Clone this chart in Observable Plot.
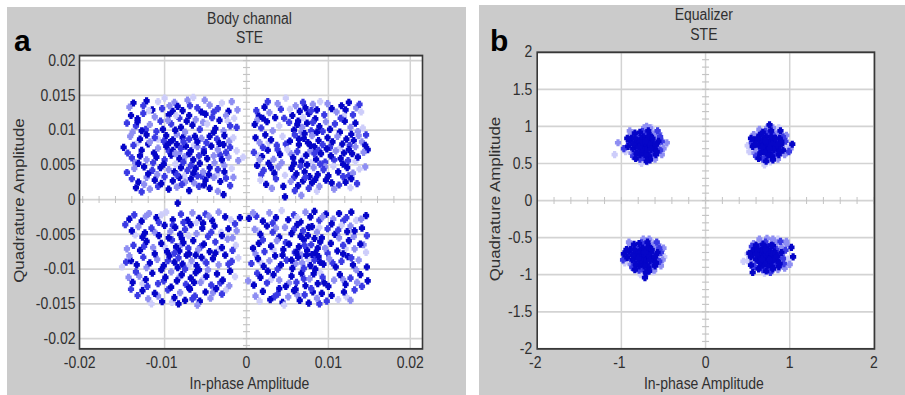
<!DOCTYPE html>
<html><head><meta charset="utf-8">
<script src="https://cdn.jsdelivr.net/npm/d3@7"></script>
<script src="https://cdn.jsdelivr.net/npm/@observablehq/plot@0.6"></script>
<style>
html,body{margin:0;padding:0;background:#fff;}
#wrap{position:relative;width:905px;height:395px;overflow:hidden;font-family:"Liberation Sans","DejaVu Sans",Arial,sans-serif;}
.panel{position:absolute;background:#cbcbcb;overflow:hidden;}
.panel svg{position:absolute;left:0;top:0;transform-origin:0 0;}
.tag{position:absolute;font-family:"Liberation Sans","DejaVu Sans",Arial,sans-serif !important;font-weight:700;font-size:30px;line-height:30px;color:#000;}
</style></head><body>
<div id="wrap">
  <div class="panel" id="pa" style="left:7px;top:7px;width:459px;height:388px"></div>
  <div class="panel" id="pb" style="left:479px;top:5px;width:426px;height:390px"></div>
  <div class="tag" style="left:14px;top:26px">a</div>
  <div class="tag" style="left:490px;top:26px">b</div>
</div>
<script>
// ---------- tick labels ----------
const aXTicks = [-0.02, -0.01, 0, 0.01, 0.02];
const aYTicks = [0.02, 0.015, 0.01, 0.005, 0, -0.005, -0.01, -0.015, -0.02];
const bXTicks = [-2, -1, 0, 1, 2];
const bYTicks = [2, 1.5, 1, 0.5, 0, -0.5, -1, -1.5, -2];
const aTitles = ["Body channal", "STE"];
const bTitles = ["Equalizer", "STE"];
const xLabel = "In-phase Amplitude";
const yLabel = "Quadrature Amplitude";
const shadeColors = ["#0505c8", "#3a3ae4", "#8e8ef2", "#cdcdfa"];

// ---------- panel a: body channel points [I, Q, shade] ----------
const aQ2 = [
[-.0143,.0133,2],[-.0138,.0139,0],[-.0122,.0142,0],[-.0115,.0129,0],[-.0108,.0141,3],[-.0100,.0146,3],[-.0088,.0140,2],[-.0084,.0134,0],[-.0078,.0128,0],[-.0072,.0143,2],[-.0065,.0147,3],[-.0060,.0132,1],[-.0055,.0126,0],[-.0045,.0136,2],[-.0035,.0131,1],[-.0030,.0139,3],[-.0022,.0127,0],[-.0018,.0141,2],
[-.0146,.0110,1],[-.0139,.0097,2],[-.0126,.0135,1],[-.0119,.0128,3],[-.0103,.0131,1],[-.0094,.0135,2],[-.0069,.0135,1],[-.0051,.0143,2],[-.0040,.0126,1],[-.0011,.0129,2],
[-.0141,.0121,0],[-.0133,.0116,0],[-.0126,.0124,1],[-.0112,.0119,2],[-.0105,.0113,1],[-.0095,.0122,0],[-.0090,.0127,0],[-.0082,.0117,1],[-.0070,.0121,0],[-.0062,.0115,2],[-.0050,.0123,0],[-.0042,.0118,1],[-.0033,.0114,0],[-.0025,.0121,2],[-.0015,.0117,3],
[-.0012,.0104,1],[-.0023,.0113,3],[-.0053,.0111,2],[-.0086,.0121,3],[-.0123,.0101,1],[-.0108,.0087,3],[-.0101,.0084,1],[-.0049,.0082,1],[-.0021,.0084,2],[-.0133,.0082,3],
[-.0135,.0106,1],[-.0128,.0099,0],[-.0118,.0108,2],[-.0102,.0101,0],[-.0092,.0109,1],[-.0080,.0104,0],[-.0075,.0097,2],[-.0066,.0107,0],[-.0057,.0101,1],[-.0048,.0109,3],[-.0038,.0102,0],[-.0028,.0099,2],[-.0020,.0106,1],
[-.0064,.0078,3],[-.0095,.0070,1],[-.0082,.0067,2],[-.0032,.0064,1],[-.0010,.0056,2],[-.0136,.0053,2],[-.0114,.0053,1],[-.0087,.0051,3],[-.0068,.0049,1],[-.0027,.0049,2],
[-.0142,.0091,2],[-.0130,.0087,0],[-.0122,.0093,0],[-.0112,.0089,1],[-.0098,.0092,0],[-.0090,.0086,0],[-.0085,.0094,2],[-.0078,.0089,0],[-.0070,.0087,1],[-.0063,.0091,0],[-.0055,.0088,2],[-.0045,.0091,0],[-.0036,.0087,1],[-.0027,.0092,0],[-.0016,.0089,3],
[-.0146,.0039,1],[-.0109,.0036,2],[-.0076,.0034,3],[-.0055,.0034,1],[-.0036,.0036,3],[-.0016,.0032,2],[-.0128,.0011,1],[-.0102,.0027,3],[-.0064,.0024,2],[-.0020,.0020,1],
[-.0150,.0075,0],[-.0138,.0078,1],[-.0128,.0071,0],[-.0120,.0080,0],[-.0108,.0074,2],[-.0098,.0077,0],[-.0090,.0071,0],[-.0085,.0079,0],[-.0080,.0074,1],[-.0074,.0077,0],[-.0068,.0070,0],[-.0060,.0076,2],[-.0052,.0072,1],[-.0043,.0077,0],[-.0035,.0072,2],[-.0028,.0079,0],[-.0020,.0075,1],[-.0012,.0070,3],
[-.0140,.0060,1],[-.0130,.0063,0],[-.0122,.0057,2],[-.0110,.0061,0],[-.0100,.0057,1],[-.0092,.0064,0],[-.0082,.0059,0],[-.0075,.0062,2],[-.0065,.0057,0],[-.0058,.0063,1],[-.0048,.0059,0],[-.0040,.0063,2],[-.0030,.0057,0],[-.0022,.0061,2],[-.0004,.0061,3],
[-.0137,.0045,2],[-.0125,.0047,0],[-.0115,.0042,1],[-.0105,.0046,0],[-.0095,.0043,2],[-.0088,.0040,0],[-.0080,.0046,0],[-.0072,.0042,1],[-.0062,.0045,0],[-.0053,.0040,2],[-.0045,.0046,0],[-.0035,.0043,1],[-.0027,.0040,0],[-.0018,.0045,3],
[-.0140,.0030,1],[-.0132,.0025,0],[-.0122,.0032,2],[-.0112,.0028,0],[-.0100,.0033,1],[-.0090,.0027,0],[-.0082,.0032,0],[-.0075,.0025,2],[-.0068,.0030,0],[-.0060,.0034,1],[-.0050,.0028,0],[-.0040,.0032,2],[-.0032,.0026,0],[-.0025,.0031,1],
[-.0135,.0017,0],[-.0118,.0015,2],[-.0108,.0019,1],[-.0095,.0015,0],[-.0085,.0018,2],[-.0070,.0013,0],[-.0058,.0019,1],[-.0045,.0016,0],[-.0035,.0012,2],[-.0028,.0007,0],
[-.0133,.0112,0],[-.0096,.0114,2],[-.0073,.0113,0],[-.0040,.0097,0],[-.0110,.0098,1],[-.0087,.0100,0],[-.0060,.0083,0],[-.0118,.0083,2],[-.0094,.0082,0],[-.0077,.0083,1],[-.0033,.0081,0],[-.0145,.0067,1],[-.0113,.0067,0],[-.0087,.0066,2],[-.0070,.0066,0],[-.0052,.0068,0],[-.0025,.0068,1],[-.0132,.0052,0],[-.0101,.0051,0],[-.0077,.0054,1],[-.0057,.0052,0],[-.0039,.0053,2],[-.0120,.0037,0],[-.0085,.0036,1],[-.0065,.0038,0],[-.0046,.0036,0],[-.0104,.0023,0],[-.0079,.0022,1],[-.0052,.0021,0],[-.0125,.0022,2]
];
const aQ1 = [
[.0012,.0128,1],[.0015,.0120,0],[.0022,.0133,0],[.0028,.0125,2],[.0035,.0118,0],[.0042,.0130,1],[.0048,.0146,3],[.0056,.0121,0],[.0060,.0135,2],[.0065,.0127,0],[.0069,.0140,1],[.0072,.0132,0],[.0076,.0124,0],[.0081,.0137,2],[.0086,.0129,0],[.0090,.0141,3],[.0095,.0122,1],[.0104,.0131,0],[.0110,.0126,2],[.0116,.0135,0],[.0121,.0129,0],[.0125,.0140,0],[.0130,.0122,1],[.0134,.0132,2],[.0140,.0126,3],
[.0026,.0141,1],[.0038,.0138,2],[.0053,.0130,3],[.0079,.0128,1],[.0099,.0138,2],[.0119,.0120,3],[.0138,.0137,1],[.0013,.0114,2],[.0046,.0117,1],[.0069,.0118,3],
[.0010,.0108,0],[.0018,.0103,1],[.0025,.0112,0],[.0032,.0099,2],[.0040,.0106,3],[.0052,.0111,1],[.0058,.0100,0],[.0063,.0113,0],[.0068,.0104,2],[.0074,.0110,0],[.0079,.0099,1],[.0084,.0116,0],[.0089,.0105,0],[.0097,.0112,2],[.0102,.0101,0],[.0108,.0109,1],[.0114,.0097,0],[.0120,.0113,0],[.0127,.0104,2],[.0133,.0110,0],[.0142,.0103,3],
[.0093,.0098,1],[.0136,.0098,2],[.0146,.0093,1],[.0027,.0082,3],[.0048,.0080,1],[.0067,.0097,2],[.0102,.0075,1],[.0114,.0074,3],[.0141,.0083,2],[.0014,.0063,3],
[.0011,.0089,0],[.0016,.0082,2],[.0023,.0093,0],[.0030,.0086,0],[.0037,.0078,1],[.0044,.0091,3],[.0053,.0084,0],[.0059,.0093,1],[.0064,.0079,0],[.0070,.0088,0],[.0075,.0082,0],[.0080,.0092,2],[.0083,.0076,0],[.0088,.0085,0],[.0093,.0079,1],[.0099,.0089,0],[.0105,.0083,0],[.0111,.0091,2],[.0117,.0080,0],[.0122,.0087,0],[.0126,.0078,1],[.0131,.0085,0],[.0137,.0092,2],[.0145,.0078,0],[.0148,.0072,0],
[.0038,.0072,1],[.0054,.0066,2],[.0070,.0061,3],[.0088,.0071,1],[.0107,.0057,1],[.0133,.0055,3],[.0018,.0036,1],[.0043,.0053,2],[.0058,.0032,1],[.0079,.0053,3],
[.0009,.0068,1],[.0019,.0062,0],[.0026,.0071,0],[.0033,.0058,2],[.0041,.0065,0],[.0050,.0072,3],[.0057,.0060,0],[.0062,.0069,1],[.0067,.0055,0],[.0073,.0064,0],[.0078,.0070,2],[.0085,.0058,0],[.0091,.0066,0],[.0096,.0054,1],[.0103,.0063,0],[.0109,.0070,2],[.0115,.0059,0],[.0119,.0067,0],[.0124,.0056,1],[.0129,.0066,0],[.0136,.0061,0],[.0143,.0068,2],
[.0096,.0047,2],[.0125,.0034,1],[.0145,.0047,2],[.0031,.0016,2],[.0059,.0013,1],[.0086,.0012,3],[.0107,.0015,2],[.0135,.0023,1],
[.0013,.0049,0],[.0021,.0042,1],[.0027,.0052,0],[.0034,.0038,0],[.0039,.0047,2],[.0047,.0035,3],[.0055,.0045,0],[.0061,.0037,0],[.0066,.0048,1],[.0071,.0040,0],[.0077,.0033,0],[.0082,.0046,2],[.0087,.0036,0],[.0094,.0043,1],[.0100,.0034,0],[.0106,.0048,3],[.0112,.0040,0],[.0118,.0033,1],[.0123,.0046,0],[.0130,.0038,2],[.0138,.0044,3],
[.0017,.0028,3],[.0024,.0022,0],[.0036,.0030,1],[.0045,.0019,0],[.0054,.0026,2],[.0063,.0020,0],[.0069,.0027,0],[.0076,.0016,1],[.0080,.0024,0],[.0089,.0019,2],[.0097,.0028,0],[.0113,.0021,1],[.0121,.0025,0],[.0127,.0017,3],[.0047,.0004,0],[.0067,.0006,2],
[.0020,.0117,0],[.0062,.0108,0],[.0081,.0111,1],[.0071,.0095,0],[.0086,.0097,0],[.0115,.0117,1],[.0128,.0094,0],[.0020,.0075,1],[.0064,.0087,0],[.0078,.0078,0],[.0083,.0066,1],[.0098,.0073,0],[.0125,.0072,0],[.0133,.0076,2],[.0058,.0052,0],[.0074,.0050,0],[.0090,.0051,1],[.0118,.0051,0],[.0030,.0046,0],[.0072,.0032,1],[.0084,.0029,0],[.0104,.0024,0],[.0128,.0030,0],[.0016,.0057,2]
];
const aQ3 = [
[-.0143,-.0028,0],[-.0137,-.0022,1],[-.0128,-.0031,0],[-.0119,-.0020,2],[-.0110,-.0026,0],[-.0098,-.0018,3],[-.0090,-.0029,0],[-.0084,-.0005,0],[-.0080,-.0021,1],[-.0072,-.0030,0],[-.0066,-.0019,2],[-.0058,-.0027,0],[-.0050,-.0021,1],[-.0042,-.0030,0],[-.0034,-.0018,2],[-.0026,-.0025,0],[-.0019,-.0029,3],[-.0008,-.0026,0],
[-.0148,-.0036,1],[-.0123,-.0024,2],[-.0104,-.0022,3],[-.0077,-.0033,1],[-.0046,-.0024,2],[-.0014,-.0035,1],[-.0136,-.0051,3],[-.0112,-.0047,2],[-.0090,-.0037,1],[-.0071,-.0052,3],
[-.0140,-.0045,0],[-.0132,-.0039,2],[-.0124,-.0048,0],[-.0116,-.0041,1],[-.0107,-.0052,0],[-.0100,-.0037,0],[-.0093,-.0046,2],[-.0087,-.0040,0],[-.0081,-.0050,0],[-.0075,-.0043,1],[-.0068,-.0036,0],[-.0061,-.0049,2],[-.0054,-.0041,0],[-.0047,-.0053,1],[-.0039,-.0038,0],[-.0031,-.0047,3],[-.0022,-.0042,0],[-.0012,-.0045,2],
[-.0043,-.0047,1],[-.0017,-.0055,2],[-.0146,-.0071,2],[-.0125,-.0067,1],[-.0100,-.0068,3],[-.0080,-.0065,2],[-.0056,-.0068,1],[-.0034,-.0072,3],[-.0147,-.0090,1],[-.0122,-.0098,2],
[-.0138,-.0066,1],[-.0130,-.0073,0],[-.0122,-.0060,0],[-.0114,-.0069,2],[-.0104,-.0063,0],[-.0097,-.0075,0],[-.0091,-.0058,1],[-.0086,-.0068,0],[-.0082,-.0074,0],[-.0077,-.0062,0],[-.0071,-.0070,1],[-.0065,-.0059,0],[-.0059,-.0072,2],[-.0052,-.0064,0],[-.0045,-.0075,0],[-.0038,-.0061,1],[-.0030,-.0069,0],[-.0023,-.0057,2],[-.0013,-.0066,3],
[-.0096,-.0088,1],[-.0070,-.0095,3],[-.0052,-.0087,2],[-.0022,-.0093,1],[-.0144,-.0112,2],[-.0127,-.0121,3],[-.0101,-.0117,1],[-.0082,-.0112,2],[-.0053,-.0114,3],[-.0032,-.0120,1],
[-.0152,-.0097,3],[-.0141,-.0088,0],[-.0134,-.0094,0],[-.0126,-.0083,1],[-.0118,-.0091,0],[-.0109,-.0086,2],[-.0101,-.0095,0],[-.0094,-.0081,0],[-.0088,-.0090,0],[-.0083,-.0084,1],[-.0078,-.0093,0],[-.0073,-.0080,0],[-.0067,-.0088,2],[-.0061,-.0095,0],[-.0055,-.0083,0],[-.0049,-.0091,1],[-.0041,-.0085,0],[-.0034,-.0094,2],[-.0026,-.0080,0],[-.0018,-.0089,1],[-.0010,-.0084,3],
[-.0141,-.0129,1],[-.0108,-.0139,2],[-.0091,-.0148,3],[-.0066,-.0143,1],[-.0041,-.0134,2],[-.0025,-.0130,3],[-.0017,-.0073,1],[-.0061,-.0033,3],
[-.0139,-.0119,0],[-.0131,-.0110,2],[-.0123,-.0115,0],[-.0115,-.0106,0],[-.0108,-.0121,1],[-.0099,-.0112,0],[-.0092,-.0104,2],[-.0085,-.0117,0],[-.0079,-.0108,0],[-.0074,-.0122,1],[-.0068,-.0113,0],[-.0062,-.0105,0],[-.0056,-.0119,2],[-.0049,-.0110,0],[-.0043,-.0123,1],[-.0036,-.0107,0],[-.0029,-.0116,0],[-.0021,-.0124,2],[-.0014,-.0111,3],
[-.0133,-.0138,1],[-.0127,-.0131,0],[-.0120,-.0143,2],[-.0112,-.0135,0],[-.0103,-.0147,0],[-.0096,-.0130,1],[-.0088,-.0141,0],[-.0081,-.0134,2],[-.0075,-.0145,0],[-.0069,-.0129,0],[-.0063,-.0139,1],[-.0057,-.0146,0],[-.0050,-.0133,0],[-.0044,-.0142,2],[-.0037,-.0128,0],[-.0030,-.0136,1],[-.0116,-.0150,3],[-.0060,-.0152,2],
[-.0095,-.0055,0],[-.0079,-.0056,0],[-.0088,-.0077,1],[-.0070,-.0078,0],[-.0062,-.0080,0],[-.0084,-.0098,0],[-.0075,-.0100,1],[-.0058,-.0101,0],[-.0127,-.0054,0],[-.0112,-.0078,0],[-.0135,-.0104,1],[-.0092,-.0126,0],[-.0070,-.0127,0],[-.0104,-.0101,0],[-.0047,-.0101,2],[-.0038,-.0077,0],[-.0121,-.0125,1],[-.0083,-.0150,0],[-.0143,-.0081,2],[-.0030,-.0052,0],[-.0053,-.0034,0],[-.0107,-.0033,1],[-.0020,-.0103,0],[-.0064,-.0119,0]
];
const aQ4 = [
[.0003,-.0027,0],[.0012,-.0024,1],[.0020,-.0031,0],[.0028,-.0019,2],[.0036,-.0026,0],[.0043,-.0016,3],[.0051,-.0029,0],[.0058,-.0022,1],[.0066,-.0032,0],[.0072,-.0018,2],[.0078,-.0025,0],[.0083,-.0017,0],[.0089,-.0030,1],[.0097,-.0021,0],[.0106,-.0028,2],[.0113,-.0020,0],[.0122,-.0026,1],[.0128,-.0018,0],[.0134,-.0030,3],[.0146,-.0023,0],
[.0008,-.0019,2],[.0032,-.0034,1],[.0062,-.0026,3],[.0093,-.0025,2],[.0118,-.0031,1],[.0140,-.0028,2],[.0014,-.0045,3],[.0036,-.0041,2],[.0058,-.0043,1],[.0089,-.0040,3],
[.0010,-.0043,2],[.0017,-.0050,0],[.0025,-.0038,0],[.0032,-.0047,1],[.0040,-.0054,0],[.0047,-.0040,2],[.0055,-.0049,0],[.0062,-.0036,0],[.0069,-.0045,1],[.0075,-.0052,0],[.0080,-.0039,0],[.0086,-.0047,2],[.0092,-.0055,0],[.0099,-.0042,1],[.0108,-.0050,0],[.0116,-.0037,3],[.0123,-.0046,0],[.0131,-.0053,2],[.0141,-.0041,0],
[.0112,-.0044,1],[.0127,-.0038,2],[.0147,-.0052,1],[.0011,-.0078,2],[.0033,-.0072,3],[.0048,-.0062,1],[.0067,-.0080,2],[.0099,-.0077,1],[.0121,-.0071,3],[.0143,-.0065,2],
[.0008,-.0070,0],[.0015,-.0063,0],[.0022,-.0075,1],[.0030,-.0067,0],[.0037,-.0059,2],[.0045,-.0072,0],[.0052,-.0064,0],[.0059,-.0076,1],[.0064,-.0068,0],[.0070,-.0058,0],[.0074,-.0073,0],[.0079,-.0065,1],[.0084,-.0077,0],[.0090,-.0061,0],[.0096,-.0070,2],[.0103,-.0063,0],[.0111,-.0074,0],[.0118,-.0066,1],[.0125,-.0059,0],[.0132,-.0071,2],[.0139,-.0064,0],[.0146,-.0076,3],
[.0017,-.0090,3],[.0038,-.0100,1],[.0060,-.0092,2],[.0076,-.0087,3],[.0105,-.0091,1],[.0134,-.0101,2],[.0013,-.0106,1],[.0030,-.0115,3],[.0052,-.0120,2],[.0070,-.0114,1],
[.0006,-.0092,1],[.0014,-.0085,0],[.0021,-.0096,0],[.0028,-.0088,2],[.0035,-.0081,0],[.0042,-.0094,0],[.0049,-.0087,1],[.0056,-.0099,0],[.0063,-.0083,0],[.0068,-.0091,2],[.0073,-.0080,0],[.0078,-.0095,0],[.0083,-.0087,1],[.0088,-.0082,0],[.0094,-.0093,0],[.0101,-.0085,2],[.0109,-.0097,0],[.0116,-.0089,1],[.0124,-.0082,0],[.0130,-.0094,0],[.0137,-.0087,2],[.0147,-.0097,0],
[.0090,-.0105,3],[.0118,-.0115,2],[.0141,-.0125,1],[.0016,-.0146,3],[.0034,-.0140,1],[.0062,-.0137,2],[.0089,-.0150,1],[.0122,-.0140,3],[.0132,-.0130,1],
[.0002,-.0117,2],[.0009,-.0123,0],[.0017,-.0112,0],[.0025,-.0120,1],[.0033,-.0108,0],[.0040,-.0116,2],[.0048,-.0125,0],[.0055,-.0110,0],[.0061,-.0119,1],[.0067,-.0106,0],[.0072,-.0124,0],[.0077,-.0114,2],[.0082,-.0107,0],[.0087,-.0121,0],[.0093,-.0112,1],[.0100,-.0125,0],[.0107,-.0116,2],[.0114,-.0108,0],[.0121,-.0122,0],[.0127,-.0113,1],[.0135,-.0119,2],[.0148,-.0117,0],
[.0011,-.0139,2],[.0020,-.0132,0],[.0029,-.0144,0],[.0038,-.0136,1],[.0044,-.0148,0],[.0051,-.0140,2],[.0058,-.0131,0],[.0065,-.0145,0],[.0071,-.0137,1],[.0076,-.0149,0],[.0081,-.0133,0],[.0086,-.0142,2],[.0092,-.0135,0],[.0098,-.0146,1],[.0104,-.0138,0],[.0112,-.0144,3],[.0119,-.0133,0],[.0127,-.0145,2],[.0046,-.0152,3],
[.0066,-.0053,0],[.0083,-.0056,0],[.0071,-.0066,1],[.0087,-.0070,0],[.0061,-.0076,0],[.0080,-.0079,0],[.0090,-.0090,0],[.0070,-.0099,1],[.0084,-.0100,0],[.0118,-.0078,0],[.0128,-.0084,1],[.0044,-.0080,0],[.0026,-.0103,0],[.0060,-.0129,0],[.0079,-.0128,1],[.0095,-.0120,0],[.0040,-.0128,0],[.0113,-.0055,2],[.0132,-.0045,0],[.0020,-.0058,1],[.0104,-.0035,0],[.0076,-.0040,0],[.0139,-.0108,0],[.0055,-.0087,0]
];

// ---------- panel b: equalizer output points [I, Q, shade] ----------
const bQ1 = [
[.74,.75,0],[.70,.78,0],[.78,.72,0],[.66,.70,1],[.82,.80,0],[.72,.86,0],[.76,.64,0],[.62,.78,1],[.86,.72,0],[.69,.62,2],[.80,.88,1],[.64,.88,0],[.88,.84,0],[.73,.70,0],[.77,.81,0],[.67,.76,0],[.83,.66,1],[.60,.70,2],[.90,.76,0],[.71,.93,1],[.79,.60,0],[.58,.82,0],[.75,.56,2],[.92,.68,0],[.65,.64,0],[.84,.90,2],[.69,.83,0],[.81,.74,0],[.62,.91,3],[.95,.80,1],[.73,.98,2],[.56,.73,0],[.87,.62,0],[.77,.52,3],[.68,.56,1],[.97,.72,3],[1.03,.76,0],[.52,.66,3],[.54,.84,0],[.60,.60,1],[.89,.94,0],[.80,.98,2],[.70,.48,3],[.76,1.02,0],[.99,.66,1],[.72,.76,0],[.75,.68,0],[.79,.77,0],[.71,.71,1],[.66,.80,0],[.84,.78,1],[.78,.86,0],[.64,.74,0],[.85,.70,0],[.74,.62,0],[.70,.66,0],[.82,.62,1],[.62,.84,0],[.92,.86,1],[.57,.89,2],[.68,.92,0],[.86,.56,2],[.63,.57,0],[.94,.62,2],[.78,.94,0],[.74,.90,1],[.90,.80,0],[.60,.76,0],[.66,.67,1],[.81,.69,0],[.77,.75,1],[.69,.74,0],[.73,.80,0],[.83,.84,0],[.65,.84,1],[.88,.66,0],[.72,.58,1],[.80,.55,0],[.58,.64,2],[.55,.78,1],[1.01,.70,2],[.96,.88,2],[.87,.98,3],[.64,.96,2],[.50,.74,3],[.72,.53,0],[.76,.70,0],[.71,.80,0],[.85,.75,0],[.67,.72,0]
];
const bQ2 = [
[-.72,.75,0],[-.76,.78,0],[-.68,.72,0],[-.80,.70,1],[-.64,.80,0],[-.74,.86,0],[-.70,.64,0],[-.84,.78,0],[-.60,.72,1],[-.78,.62,0],[-.66,.88,0],[-.88,.84,0],[-.58,.84,2],[-.73,.70,0],[-.69,.81,0],[-.79,.76,0],[-.63,.66,1],[-.86,.70,0],[-.56,.76,2],[-.75,.93,1],[-.67,.60,0],[-.90,.82,0],[-.71,.56,2],[-.54,.68,1],[-.82,.64,0],[-.62,.90,2],[-.77,.83,0],[-.65,.74,0],[-.84,.91,0],[-.52,.80,1],[-.73,.98,2],[-.92,.73,0],[-.59,.62,0],[-.69,.52,3],[-.78,.56,1],[-.48,.74,3],[-.46,.78,2],[-.95,.66,3],[-.93,.84,0],[-.86,.60,1],[-.57,.94,1],[-.66,.98,2],[-.76,.50,3],[-.70,1.00,2],[-.97,.70,1],[-1.08,.62,3],[-1.04,.78,2],[-.74,.76,0],[-.71,.68,0],[-.67,.77,0],[-.75,.71,1],[-.80,.80,0],[-.62,.78,1],[-.68,.86,0],[-.82,.74,0],[-.61,.70,0],[-.72,.62,0],[-.76,.66,0],[-.64,.62,1],[-.84,.84,0],[-.54,.86,1],[-.89,.89,2],[-.78,.92,0],[-.60,.56,2],[-.83,.57,0],[-.52,.62,2],[-.68,.94,0],[-.72,.90,1],[-.56,.80,0],[-.86,.76,0],[-.80,.67,1],[-.65,.69,0],[-.69,.75,1],[-.77,.74,0],[-.73,.80,0],[-.63,.84,0],[-.81,.84,1],[-.58,.66,0],[-.74,.58,1],[-.66,.55,0],[-.88,.64,2],[-.91,.78,1],[-.50,.70,2],[-.55,.90,2],[-.64,.98,3],[-.90,.94,2],[-.70,.53,0],[-.76,.70,0],[-.71,.80,0],[-.59,.75,0],[-.79,.72,0]
];
const bQ3 = [
[-.73,-.75,0],[-.77,-.72,0],[-.69,-.78,0],[-.81,-.80,1],[-.65,-.70,0],[-.75,-.64,0],[-.71,-.86,0],[-.85,-.72,0],[-.61,-.78,1],[-.79,-.88,0],[-.67,-.62,0],[-.89,-.66,0],[-.59,-.66,2],[-.74,-.80,0],[-.70,-.69,0],[-.80,-.74,0],[-.64,-.84,1],[-.87,-.80,0],[-.57,-.74,2],[-.76,-.57,1],[-.68,-.90,0],[-.91,-.68,0],[-.72,-.94,2],[-.55,-.82,1],[-.83,-.86,0],[-.63,-.60,2],[-.78,-.67,0],[-.66,-.76,0],[-.85,-.59,0],[-.53,-.70,1],[-.74,-.52,2],[-.93,-.77,0],[-.60,-.88,0],[-.70,-.98,1],[-.79,-.94,1],[-.49,-.76,3],[-.50,-.64,2],[-.96,-.84,3],[-.94,-.66,0],[-.87,-.90,1],[-.58,-.56,1],[-.67,-.52,2],[-.77,-1.00,3],[-.72,-1.04,0],[-.98,-.80,1],[-.97,-.72,0],[-.62,-.96,3],[-.75,-.74,0],[-.72,-.82,0],[-.68,-.73,0],[-.76,-.79,1],[-.81,-.70,0],[-.63,-.72,1],[-.69,-.64,0],[-.83,-.76,0],[-.62,-.80,0],[-.73,-.88,0],[-.77,-.84,0],[-.65,-.88,1],[-.85,-.66,0],[-.55,-.64,1],[-.90,-.61,2],[-.79,-.58,0],[-.61,-.94,2],[-.84,-.93,0],[-.53,-.88,2],[-.69,-.56,0],[-.73,-.60,1],[-.57,-.70,0],[-.87,-.74,0],[-.81,-.83,1],[-.66,-.81,0],[-.70,-.75,1],[-.78,-.76,0],[-.74,-.70,0],[-.64,-.66,0],[-.82,-.66,1],[-.59,-.84,0],[-.75,-.92,1],[-.67,-.95,0],[-.89,-.86,2],[-.92,-.72,1],[-.51,-.80,2],[-.56,-.60,2],[-.65,-.54,3],[-.91,-.56,2],[-.71,-.97,0],[-.77,-.80,0],[-.72,-.70,0],[-.60,-.76,0],[-.80,-.78,0]
];
const bQ4 = [
[.74,-.74,0],[.70,-.71,0],[.78,-.77,0],[.66,-.79,1],[.82,-.69,0],[.72,-.63,0],[.76,-.85,0],[.62,-.71,0],[.86,-.77,1],[.68,-.87,0],[.80,-.61,0],[.58,-.65,0],[.90,-.63,2],[.73,-.79,0],[.77,-.68,0],[.67,-.73,0],[.83,-.83,1],[.60,-.79,0],[.91,-.73,2],[.71,-.56,1],[.79,-.89,0],[.56,-.69,0],[.75,-.93,2],[.93,-.85,1],[.64,-.83,0],[.84,-.57,2],[.69,-.66,0],[.81,-.75,0],[.60,-.60,0],[.95,-.67,1],[.73,-.51,2],[.54,-.76,0],[.87,-.89,0],[.77,-.97,1],[.68,-.93,1],[.98,-.79,3],[.96,-.58,2],[.50,-.81,3],[.52,-.71,0],[.58,-.89,1],[.89,-.55,1],[.80,-.52,2],[.70,-.98,3],[.54,-.87,0],[.56,-.97,0],[1.04,-.76,0],[1.02,-.63,0],[.45,-.82,3],[.72,-.74,0],[.75,-.69,0],[.79,-.72,0],[.71,-.78,1],[.66,-.67,0],[.84,-.66,1],[.78,-.60,0],[.64,-.75,0],[.85,-.81,0],[.74,-.87,0],[.70,-.82,0],[.82,-.86,1],[.62,-.66,0],[.92,-.78,1],[.57,-.58,2],[.68,-.59,0],[.86,-.93,2],[.63,-.92,0],[.94,-.91,2],[.78,-.82,0],[.74,-.62,1],[.90,-.70,0],[.60,-.73,0],[.66,-.86,1],[.81,-.79,0],[.77,-.74,1],[.69,-.76,0],[.73,-.69,0],[.83,-.72,0],[.65,-.62,1],[.88,-.85,0],[.72,-.90,1],[.80,-.92,0],[.58,-.84,2],[.55,-.62,1],[1.00,-.86,2],[.96,-.55,2],[.86,-.52,3],[.64,-.52,2],[.50,-.72,3],[.72,-.95,0],[.76,-.80,0],[.71,-.66,0],[.85,-.75,0],[.67,-.79,0]
];

// ---------- rendering ----------
const S = 1.16; // the reference is vertically stretched
const fmt = d => String(d);
const vtick = {draw(ctx) { ctx.moveTo(0, -3); ctx.lineTo(0, 3); }};
const htick = {draw(ctx) { ctx.moveTo(-3.5, 0); ctx.lineTo(3.5, 0); }};
// thick "+" marker, like the reference's blurred crosses
const blob = {draw(ctx) {
  const L = 3.1, w = 1.6;
  ctx.moveTo(-w, -L); ctx.lineTo(w, -L); ctx.lineTo(w, -w); ctx.lineTo(L, -w);
  ctx.lineTo(L, w); ctx.lineTo(w, w); ctx.lineTo(w, L); ctx.lineTo(-w, L);
  ctx.lineTo(-w, w); ctx.lineTo(-L, w); ctx.lineTo(-L, -w); ctx.lineTo(-w, -w); ctx.closePath();
}};

function build(el, cfg) {
  const W = cfg.w, H = cfg.h;
  const fT = cfg.frame.top - cfg.top, fB = cfg.frame.bottom - cfg.top;
  let pts = cfg.points.flat();
  if (cfg.darkOnTop) pts = pts.slice().sort((a, b) => b[2] - a[2]);
  const gridStyle = {stroke: "#d3d3d3", strokeOpacity: 1, strokeWidth: 1.5};
  const negX = cfg.xTicks.filter(d => d < 0), posX = cfg.xTicks.filter(d => d >= 0);
  const xPad = (cfg.xLabelTop - cfg.frame.bottom) / S;
  const svg = Plot.plot({
    width: W, height: H / S,
    marginTop: fT / S, marginBottom: (H - fB) / S,
    marginLeft: cfg.frame.left - cfg.left, marginRight: cfg.left + W - cfg.frame.right,
    style: {background: "transparent", fontFamily: "'Liberation Sans', Arial, sans-serif", fontSize: "14px", color: "#303030", overflow: "visible"},
    x: {domain: cfg.xDomain, label: null},
    y: {domain: cfg.yDomain, label: null},
    color: {type: "identity"},
    marks: [
      Plot.frame({fill: "white", stroke: null}),
      Plot.gridX(cfg.xGrid, gridStyle),
      Plot.gridY(cfg.yGrid, gridStyle),
      Plot.ruleX([0], gridStyle),
      Plot.ruleY([0], gridStyle),
      Plot.dot(cfg.hMinor, {x: d => d, y: () => 0, symbol: vtick, fill: "none", stroke: "#c4c4c4", strokeWidth: 1}),
      Plot.dot(cfg.vMinor, {x: () => 0, y: d => d, symbol: htick, fill: "none", stroke: "#c4c4c4", strokeWidth: 1}),
      Plot.dot(pts, {x: d => d[0], y: d => d[1], symbol: blob, fill: d => shadeColors[d[2]], stroke: "none"}),
      Plot.frame({stroke: "#383838", strokeWidth: 1.6}),
      Plot.axisY(cfg.yTicks, {tickSize: 0, tickPadding: cfg.yPad, tickFormat: fmt, label: null}),
      Plot.axisX(negX, {tickSize: 0, tickPadding: xPad, tickFormat: fmt, label: null, dx: cfg.negDx}),
      Plot.axisX(posX, {tickSize: 0, tickPadding: xPad, tickFormat: fmt, label: null}),
      Plot.text([cfg.titles[0]], {frameAnchor: "top", text: d => d, textAnchor: "middle", dx: cfg.titleDx, dy: (cfg.title1Y - cfg.frame.top) / S, lineAnchor: "middle", fontSize: 14}),
      Plot.text([cfg.titles[1]], {frameAnchor: "top", text: d => d, textAnchor: "middle", dx: cfg.titleDx, dy: (cfg.title2Y - cfg.frame.top) / S, lineAnchor: "middle", fontSize: 14}),
      Plot.text([xLabel], {frameAnchor: "bottom", text: d => d, textAnchor: "middle", dx: cfg.titleDx, dy: (cfg.xLabelY - cfg.frame.bottom) / S, lineAnchor: "middle", fontSize: 14}),
      Plot.text([yLabel], {frameAnchor: "left", text: d => d, textAnchor: "middle", rotate: -90, dx: cfg.yLabelX - cfg.frame.left, dy: (cfg.yLabelY - (cfg.frame.top + cfg.frame.bottom) / 2) / S, lineAnchor: "middle", fontSize: 14.6})
    ]
  });
  svg.style.transform = `scaleY(${S})`;
  el.appendChild(svg);
}

build(document.getElementById("pa"), {
  left: 7, top: 7, w: 459, h: 388,
  frame: {left: 79, right: 422, top: 55, bottom: 348.3},
  xDomain: [-0.02039, 0.02149], yDomain: [-0.02148, 0.02072],
  xTicks: aXTicks, yTicks: aYTicks,
  xGrid: [-0.01, 0.01, 0.02], yGrid: [0.02, 0.015, 0.01, 0.005, -0.005, -0.01, -0.015, -0.02],
  hMinor: d3.range(-0.02, 0.0201, 0.002), vMinor: d3.range(-0.021, 0.0205, 0.001),
  points: [aQ1, aQ2, aQ3, aQ4], titles: aTitles, darkOnTop: false,
  yPad: 4, negDx: -3, titleDx: -1.5, xLabelTop: 355.5,
  title1Y: 18.2, title2Y: 37.5, xLabelY: 383.5, yLabelX: 19, yLabelY: 200
});
build(document.getElementById("pb"), {
  left: 479, top: 5, w: 426, h: 390,
  frame: {left: 536.7, right: 874, top: 51.7, bottom: 348.3},
  xDomain: [-2, 2.007], yDomain: [-2, 2],
  xTicks: bXTicks, yTicks: bYTicks,
  xGrid: [-1, 1, 2], yGrid: [2, 1.5, 1, 0.5, -0.5, -1, -1.5, -2],
  hMinor: d3.range(-2, 2.01, 0.2), vMinor: d3.range(-2, 2.01, 0.1),
  points: [bQ1, bQ2, bQ3, bQ4], titles: bTitles, darkOnTop: true,
  yPad: 5, negDx: -2, titleDx: -2, xLabelTop: 355.5,
  title1Y: 14.5, title2Y: 34.2, xLabelY: 383.5, yLabelX: 495, yLabelY: 198.5
});
</script>
</body></html>
